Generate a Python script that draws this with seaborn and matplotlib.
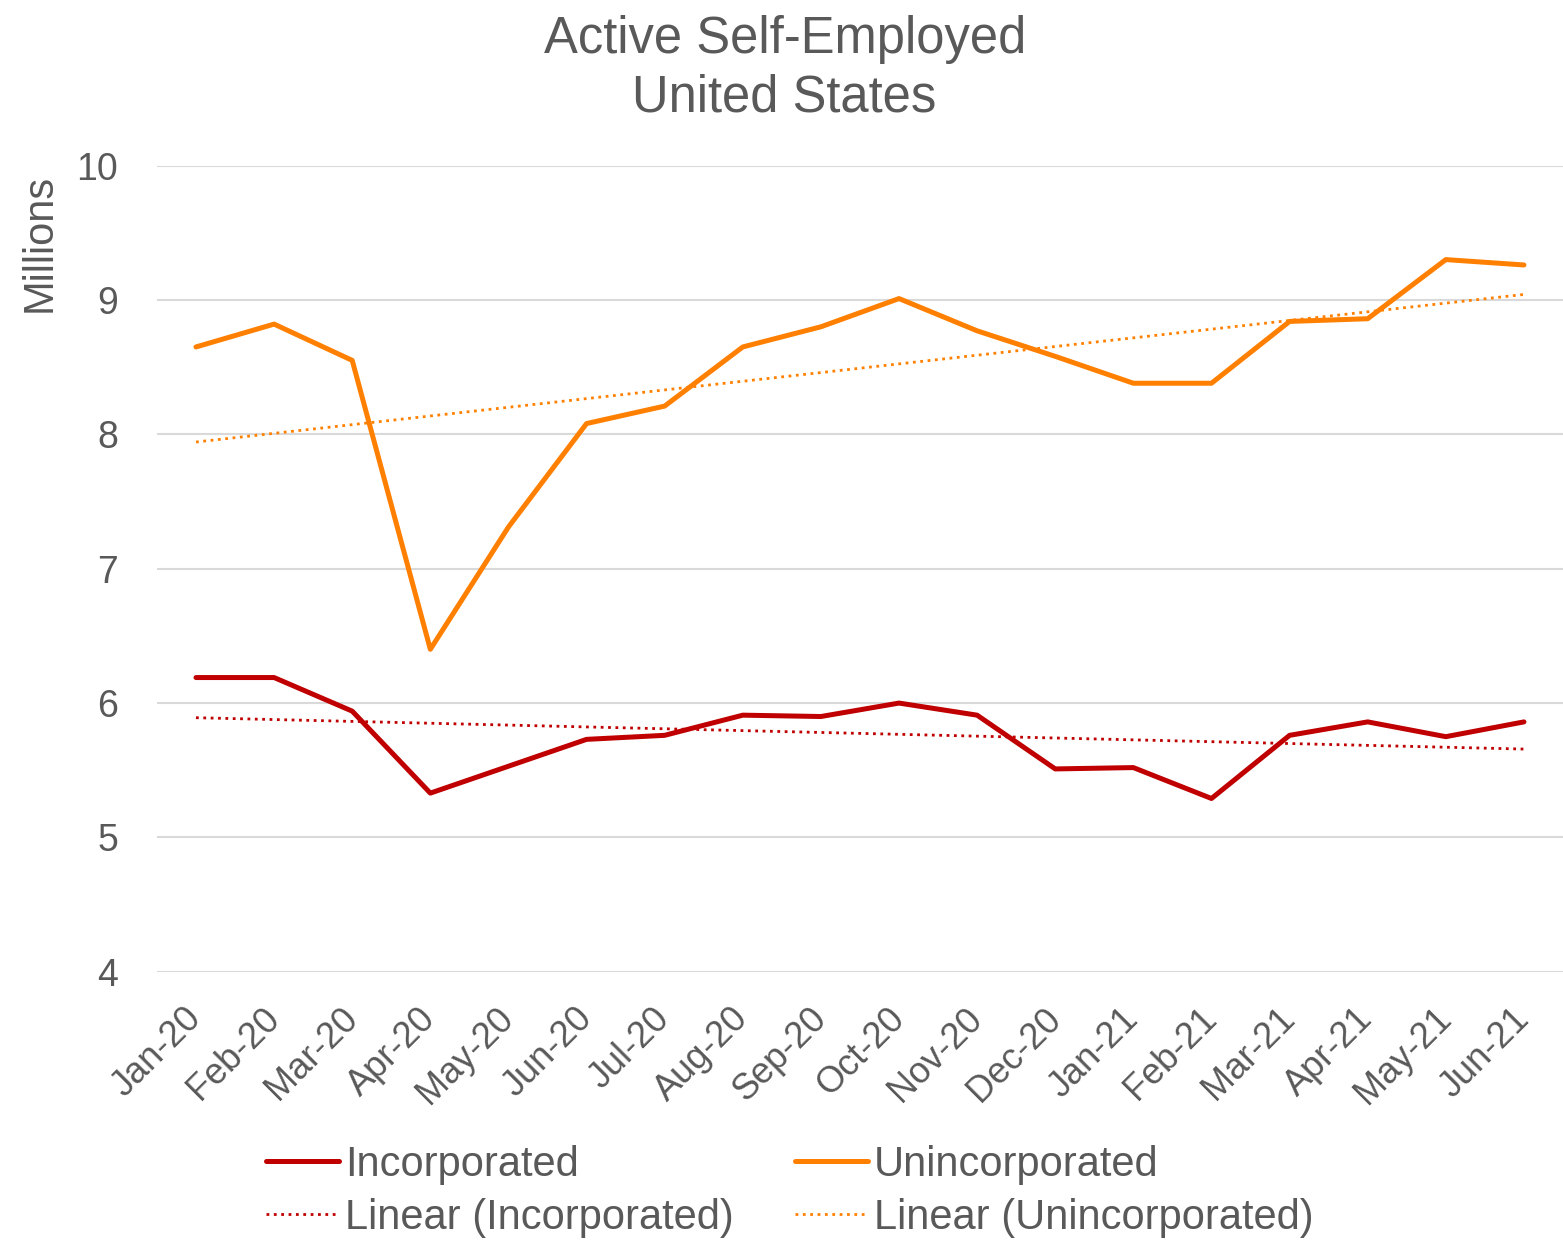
import pandas as pd
import matplotlib.pyplot as plt
import seaborn as sns
import numpy as np

# monthly active self-employed, millions
months = ["Jan-20", "Feb-20", "Mar-20", "Apr-20", "May-20", "Jun-20", "Jul-20", "Aug-20", "Sep-20",
          "Oct-20", "Nov-20", "Dec-20", "Jan-21", "Feb-21", "Mar-21", "Apr-21", "May-21", "Jun-21"]
incorporated = [6.19, 6.19, 5.94, 5.33, 5.53, 5.73, 5.76, 5.91, 5.90,
                6.00, 5.91, 5.51, 5.52, 5.29, 5.76, 5.86, 5.75, 5.86]
unincorporated = [8.65, 8.82, 8.55, 6.40, 7.31, 8.08, 8.21, 8.65, 8.80,
                  9.01, 8.77, 8.58, 8.38, 8.38, 8.84, 8.86, 9.30, 9.26]

red = "#C00000"
orange = "#FF8000"
grey = "#595959"

sns.set_style("white")
plt.rcParams["font.family"] = ["Liberation Sans", "DejaVu Sans"]

x = np.arange(len(months))
df = pd.DataFrame({"x": np.tile(x, 2),
                   "Millions": incorporated + unincorporated,
                   "series": ["Incorporated"] * len(x) + ["Unincorporated"] * len(x)})

# linear trendlines, like excel
trend = []
for name, vals in [("Linear (Incorporated)", incorporated), ("Linear (Unincorporated)", unincorporated)]:
    k, b = np.polyfit(x, vals, 1)
    trend.append(pd.DataFrame({"x": x, "Millions": k * x + b, "series": name}))
trend = pd.concat(trend)

fig = plt.figure(figsize=(15.63, 12.54), dpi=100)
ax = fig.add_axes([0.1004, 0.225, 0.8996, 0.643])

sns.lineplot(data=df, x="x", y="Millions", hue="series",
             palette={"Incorporated": red, "Unincorporated": orange},
             linewidth=3.6, ax=ax, legend=False)
sns.lineplot(data=trend, x="x", y="Millions", hue="series",
             palette={"Linear (Incorporated)": red, "Linear (Unincorporated)": orange},
             linewidth=2.0, linestyle=":", ax=ax, legend=False)

ax.set_xlim(-0.5, len(months) - 0.5)
ax.set_ylim(4, 10)
ax.set_yticks([4, 5, 6, 7, 8, 9, 10])
ax.set_xticks(x)
ax.set_xticklabels(months, rotation=45, ha="right", va="center", rotation_mode="anchor")
ax.tick_params(axis="x", length=0, pad=30, labelsize=26, labelcolor=grey)
ax.tick_params(axis="y", length=0, pad=28, labelsize=27, labelcolor=grey)
ax.grid(axis="y", color="#D9D9D9", linewidth=1.5)
ax.set_axisbelow(True)
ax.set_xlabel("")
ax.set_ylabel("")
sns.despine(ax=ax, left=True, bottom=True)

fig.text(0.0256, 0.806, "Millions", rotation=90, ha="center", va="center", fontsize=30, color=grey)
fig.text(0.502, 0.9577, "Active Self-Employed", ha="center", va="baseline", fontsize=36.5, color=grey)
fig.text(0.502, 0.9107, "United States", ha="center", va="baseline", fontsize=36.5, color=grey)

# legend built from the drawn lines
lines = ax.get_lines()
handles = [lines[0], lines[2], lines[1], lines[3]]
labels = ["Incorporated", "Linear (Incorporated)", "Unincorporated", "Linear (Unincorporated)"]
fig.legend(handles, labels, loc="center", bbox_to_anchor=(0.5055, 0.050), ncol=2, frameon=False,
           fontsize=30, labelcolor=grey, handlelength=1.74, handletextpad=0.15,
           columnspacing=1.48, labelspacing=0.3)

plt.savefig("out.png", dpi=100)
plt.close()
